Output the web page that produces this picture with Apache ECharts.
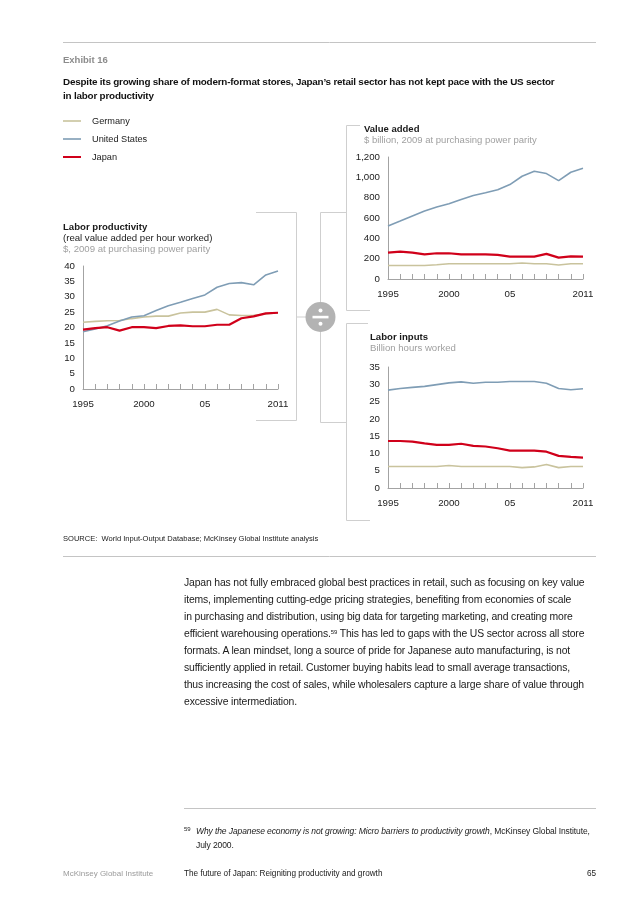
<!DOCTYPE html>
<html><head><meta charset="utf-8">
<script src="https://cdn.jsdelivr.net/npm/echarts@6/dist/echarts.min.js"></script>
<style>
html,body{margin:0;padding:0;background:#fff;}
#page{position:relative;width:636px;height:900px;overflow:hidden;font-family:"Liberation Sans",Arial,Helvetica,sans-serif;color:#1a1a1a;}
#chart{position:absolute;left:0;top:0;width:636px;height:900px;}
.t{position:absolute;white-space:nowrap;line-height:12px;height:12px;}
.b{font-weight:bold;}
.g{color:#8c8c8c;}
.body{font-size:10.4px;letter-spacing:-0.15px;color:#1a1a1a;}
.sup{font-size:6px;position:relative;top:-3.5px;line-height:0;}
</style></head><body>
<div id="page">
<div id="chart"></div>
<div class="t b g" style="left:63px;top:54px;font-size:9.5px;">Exhibit 16</div>
<div class="t b" style="left:63px;top:76px;font-size:9.9px;letter-spacing:-0.2px;color:#111;">Despite its growing share of modern-format stores, Japan’s retail sector has not kept pace with the US sector</div>
<div class="t b" style="left:63px;top:90px;font-size:9.9px;letter-spacing:-0.2px;color:#111;">in labor productivity</div>

<div class="t" style="left:92px;top:115px;font-size:9.2px;">Germany</div>
<div class="t" style="left:92px;top:133px;font-size:9.2px;">United States</div>
<div class="t" style="left:92px;top:151px;font-size:9.2px;">Japan</div>

<div class="t b" style="left:63px;top:221px;font-size:9.6px;">Labor productivity</div>
<div class="t" style="left:63px;top:232px;font-size:9.6px;">(real value added per hour worked)</div>
<div class="t g" style="left:63px;top:243px;font-size:9.6px;color:#a0a0a0;">$, 2009 at purchasing power parity</div>

<div class="t b" style="left:364px;top:123px;font-size:9.5px;">Value added</div>
<div class="t g" style="left:364px;top:134px;font-size:9.5px;color:#a0a0a0;">$ billion, 2009 at purchasing power parity</div>

<div class="t b" style="left:370px;top:331px;font-size:9.6px;">Labor inputs</div>
<div class="t g" style="left:370px;top:342px;font-size:9.6px;color:#a0a0a0;">Billion hours worked</div>

<div class="t" style="left:63px;top:533px;font-size:7.55px;">SOURCE:&nbsp; World Input-Output Database; McKinsey Global Institute analysis</div>

<div class="t body" style="left:184px;top:577px;">Japan has not fully embraced global best practices in retail, such as focusing on key value</div>
<div class="t body" style="left:184px;top:594px;">items, implementing cutting-edge pricing strategies, benefiting from economies of scale</div>
<div class="t body" style="left:184px;top:611px;">in purchasing and distribution, using big data for targeting marketing, and creating more</div>
<div class="t body" style="left:184px;top:628px;">efficient warehousing operations.<span class="sup">59</span> This has led to gaps with the US sector across all store</div>
<div class="t body" style="left:184px;top:645px;">formats. A lean mindset, long a source of pride for Japanese auto manufacturing, is not</div>
<div class="t body" style="left:184px;top:662px;">sufficiently applied in retail. Customer buying habits lead to small average transactions,</div>
<div class="t body" style="left:184px;top:679px;">thus increasing the cost of sales, while wholesalers capture a large share of value through</div>
<div class="t body" style="left:184px;top:696px;">excessive intermediation.</div>

<div class="t" style="left:184px;top:823px;font-size:6px;">59</div>
<div class="t" style="left:196px;top:825px;font-size:8.5px;letter-spacing:-0.1px;"><i>Why the Japanese economy is not growing: Micro barriers to productivity growth</i>, McKinsey Global Institute,</div>
<div class="t" style="left:196px;top:839px;font-size:8.5px;letter-spacing:-0.1px;">July 2000.</div>

<div class="t g" style="left:63px;top:868px;font-size:8px;color:#9a9a9a;">McKinsey Global Institute</div>
<div class="t" style="left:184px;top:868px;font-size:8.2px;">The future of Japan: Reigniting productivity and growth</div>
<div class="t" style="left:560px;top:868px;width:36px;text-align:right;font-size:8.2px;">65</div>
</div>
<script>
// ---- data ----
const years = ['1995','1996','1997','1998','1999','2000','2001','2002','2003','2004','2005','2006','2007','2008','2009','2010','2011'];
const xTickYears = ['1995','2000','2005','2011'];
const xTickText  = ['1995','2000','05','2011'];

// Labor productivity ($ per hour, 2009 PPP)
const lpGermany = [21.7,22.0,22.2,22.3,22.9,23.4,23.7,23.7,24.7,25.0,25.0,25.9,24.1,23.9,24.0,24.4,24.8];
const lpUS      = [18.6,19.5,20.6,22.1,23.4,23.8,25.5,27.1,28.2,29.4,30.6,33.1,34.3,34.6,33.9,37.1,38.4];
const lpJapan   = [19.3,19.8,20.1,19.0,20.1,20.1,19.8,20.5,20.7,20.4,20.4,20.9,20.9,23.0,23.6,24.6,24.8];

// Value added ($ billion, 2009 PPP)
const vaGermany = [133,133,133,133,140,150,150,150,150,150,150,157,150,150,137,150,150];
const vaUS      = [522,570,620,668,708,740,782,822,848,877,929,1011,1060,1037,968,1050,1089];
const vaJapan   = [260,270,260,243,253,253,243,243,243,237,220,220,220,247,210,223,220];

// Labor inputs (billion hours worked)
const liGermany = [6.2,6.2,6.2,6.2,6.2,6.5,6.2,6.2,6.2,6.2,6.2,5.9,6.1,6.8,5.9,6.2,6.2];
const liUS      = [28.3,28.8,29.1,29.4,29.9,30.4,30.7,30.3,30.6,30.6,30.8,30.8,30.8,30.3,28.8,28.4,28.7];
const liJapan   = [13.6,13.6,13.4,12.9,12.5,12.5,12.8,12.2,12.0,11.5,10.8,10.8,10.8,10.5,9.3,9.0,8.8];

const seriesNames = ['Germany','United States','Japan'];

// ---- styles ----
const FONT = '"Liberation Sans", Arial, Helvetica, sans-serif';
const C = {Germany:'#c9c39d', 'United States':'#7f9db5', Japan:'#d0001a'};
const W = {Germany:1.6, 'United States':1.6, Japan:2.2};
const axisGrey = '#a3a3a3';
const frameGrey = '#cfcfcf';

function xAxis(gi){
  return {type:'category', gridIndex:gi, data:years, boundaryGap:false,
    axisLine:{lineStyle:{color:axisGrey,width:1}},
    axisTick:{show:true, inside:true, length:5, interval:0, lineStyle:{color:axisGrey}},
    axisLabel:{interval:0, margin:10, color:'#222', fontSize:9.7, fontFamily:FONT,
      formatter:v=>{const i=xTickYears.indexOf(v); return i>=0?xTickText[i]:'';}},
    splitLine:{show:false}};
}
function yAxis(gi,max,interval,fmt){
  return {type:'value', gridIndex:gi, min:0, max:max, interval:interval,
    axisLine:{show:true, lineStyle:{color:axisGrey,width:1}},
    axisTick:{show:false}, splitLine:{show:false},
    axisLabel:{margin:8, color:'#222', fontSize:9.7, fontFamily:FONT, formatter:fmt}};
}
function line(name, data, gi){
  return {type:'line', name:name, xAxisIndex:gi, yAxisIndex:gi, data:data, showSymbol:false, silent:true,
    lineStyle:{color:C[name], width:W[name]}, itemStyle:{color:C[name]}, z: name==='Japan'?4:3};
}

const groups = [[lpGermany,lpUS,lpJapan],[vaGermany,vaUS,vaJapan],[liGermany,liUS,liJapan]];
const series = [];
groups.forEach((g,gi)=>g.forEach((d,k)=>series.push(line(seriesNames[k], d, gi))));

function hl(x1,y1,x2,y2,color,w){return {type:'line', shape:{x1,y1,x2,y2}, style:{stroke:color||frameGrey, lineWidth:w||1}, silent:true};}

const graphic = [
  hl(63,42.5,596,42.5,'#c4c4c4'),
  hl(63,556.5,596,556.5,'#c4c4c4'),
  hl(184,808.5,596,808.5,'#c4c4c4'),
  // legend keys
  hl(63,121,81,121,C.Germany,1.6),
  hl(63,139,81,139,C['United States'],1.6),
  hl(63,157,81,157,C.Japan,2),
  // left bracket
  hl(256,212.5,296.5,212.5), hl(296.5,212.5,296.5,420.5), hl(256,420.5,296.5,420.5),
  hl(296.5,317,306,317),
  // central connector
  hl(320.5,212.5,320.5,302), hl(320.5,332,320.5,422.5),
  hl(320.5,212.5,346.5,212.5), hl(320.5,422.5,346.5,422.5),
  // value added frame
  hl(346.5,125.5,346.5,310.5), hl(346.5,125.5,360,125.5), hl(346.5,310.5,370,310.5),
  // labor inputs frame
  hl(346.5,323.5,346.5,520.5), hl(346.5,323.5,368,323.5), hl(346.5,520.5,370,520.5),
  // divide sign
  {type:'circle', shape:{cx:320.5, cy:317, r:15}, style:{fill:'#b3b3b3'}, silent:true},
  {type:'rect', shape:{x:312.5, y:315.8, width:16, height:2.6}, style:{fill:'#fff'}, silent:true},
  {type:'circle', shape:{cx:320.5, cy:310.5, r:2}, style:{fill:'#fff'}, silent:true},
  {type:'circle', shape:{cx:320.5, cy:323.8, r:2}, style:{fill:'#fff'}, silent:true}
];

const chart = echarts.init(document.getElementById('chart'), null, {renderer:'canvas', width:636, height:900});
chart.setOption({
  animation:false,
  backgroundColor:'#fff',
  textStyle:{fontFamily:FONT},
  grid:[
    {left:83, top:266, width:195, height:123},
    {left:388, top:157, width:195, height:122},
    {left:388, top:367, width:195, height:121}
  ],
  xAxis:[xAxis(0), xAxis(1), xAxis(2)],
  yAxis:[
    yAxis(0,40,5),
    yAxis(1,1200,200,v=>v.toLocaleString('en-US')),
    yAxis(2,35,5)
  ],
  series:series,
  graphic:graphic
});
</script>
</body></html>
